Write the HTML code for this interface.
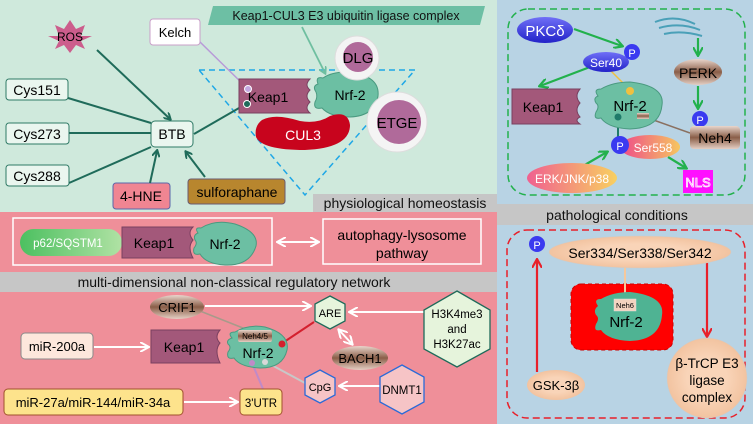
<!DOCTYPE html>
<html><head><meta charset="utf-8"><style>
html,body{margin:0;padding:0;width:753px;height:424px;overflow:hidden;background:#fff}
svg{display:block;font-family:"Liberation Sans",Arial,sans-serif}
</style></head><body>
<svg width="753" height="424" viewBox="0 0 753 424" xmlns="http://www.w3.org/2000/svg">
<defs>
<marker id="ag" markerWidth="8" markerHeight="8" refX="6" refY="4" orient="auto" markerUnits="userSpaceOnUse"><path d="M0,0 L7,4 L0,8" fill="none" stroke="#1f6b5a" stroke-width="2"/></marker>
<marker id="aw" markerWidth="10" markerHeight="10" refX="8" refY="5" orient="auto-start-reverse" markerUnits="userSpaceOnUse"><path d="M0,0 L9,5 L0,10" fill="none" stroke="#fff" stroke-width="2"/></marker>
<marker id="agr" markerWidth="10" markerHeight="10" refX="8" refY="5" orient="auto" markerUnits="userSpaceOnUse"><path d="M0,0 L9,5 L0,10" fill="none" stroke="#22b14c" stroke-width="2.2"/></marker>
<marker id="ar" markerWidth="10" markerHeight="10" refX="8" refY="5" orient="auto" markerUnits="userSpaceOnUse"><path d="M0,0 L9,5 L0,10" fill="none" stroke="#e8202a" stroke-width="2.2"/></marker>
<marker id="at" markerWidth="8" markerHeight="8" refX="6" refY="4" orient="auto" markerUnits="userSpaceOnUse"><path d="M0,0 L7,4 L0,8" fill="none" stroke="#6fbfa0" stroke-width="1.8"/></marker>
<linearGradient id="pkc" x1="0" y1="0" x2="0" y2="1"><stop offset="0" stop-color="#6f6ff7"/><stop offset="1" stop-color="#2222c8"/></linearGradient>
<linearGradient id="brn" x1="0" y1="0" x2="0" y2="1"><stop offset="0" stop-color="#e9d6cc"/><stop offset="0.5" stop-color="#8a5e48"/><stop offset="1" stop-color="#e5cfc4"/></linearGradient>
<linearGradient id="erk" x1="0" y1="0" x2="1" y2="0"><stop offset="0" stop-color="#f06090"/><stop offset="1" stop-color="#f8d060"/></linearGradient>
<linearGradient id="s558" x1="0" y1="0" x2="1" y2="0"><stop offset="0" stop-color="#ee4a8a"/><stop offset="1" stop-color="#f6c660"/></linearGradient>
<linearGradient id="p62" x1="0" y1="0" x2="1" y2="0"><stop offset="0" stop-color="#4cc060"/><stop offset="1" stop-color="#b0e2a4"/></linearGradient>
<radialGradient id="peach"><stop offset="0.5" stop-color="#f9d4b8"/><stop offset="1" stop-color="#f2c3a0"/></radialGradient>
</defs>

<rect x="0" y="0" width="497" height="212" fill="#cfe9dc"/>
<rect x="0" y="212" width="497" height="212" fill="#ef8f99"/>
<rect x="497" y="0" width="256" height="424" fill="#b8d3e4"/>
<rect x="313" y="194" width="184" height="18" fill="#c6c6c6"/>
<text x="405" y="208" font-size="14" text-anchor="middle" fill="#111">physiological homeostasis</text>
<rect x="0" y="272" width="497" height="20" fill="#c6c6c6"/>
<text x="234" y="287" font-size="14" text-anchor="middle" fill="#111">multi-dimensional non-classical regulatory network</text>
<rect x="497" y="204" width="256" height="21" fill="#c6c6c6"/>
<text x="617" y="220" font-size="14" text-anchor="middle" fill="#111">pathological conditions</text>

<path d="M59,36 L55,25 L64,29 L70,20 L76,29 L85,25 L81,36 L92,36 L81,41 L85,49 L76,45 L70,53 L64,45 L55,49 L59,41 L48,36 Z" fill="#cc5d8c"/>
<text x="70" y="41" font-size="12" text-anchor="middle">ROS</text>
<rect x="150" y="19" width="50" height="26" rx="3" fill="#fff" stroke="#c9a0c9"/>
<text x="175" y="37" font-size="13" text-anchor="middle">Kelch</text>
<path d="M213,6 L485,6 L480,25 L208,25 Z" fill="#6dbfa4"/>
<text x="346" y="20" font-size="12.5" text-anchor="middle" fill="#111">Keap1-CUL3 E3 ubiquitin ligase complex</text>
<polygon points="199,70 415,70 305,195" fill="none" stroke="#1fa7e6" stroke-width="1.5" stroke-dasharray="6,4"/>

<rect x="6" y="79" width="62" height="21" rx="3" fill="#eaf6ef" stroke="#2f7a66"/>
<text x="37" y="95" font-size="14" text-anchor="middle">Cys151</text>
<rect x="6" y="123" width="63" height="21" rx="3" fill="#eaf6ef" stroke="#2f7a66"/>
<text x="37" y="139" font-size="14" text-anchor="middle">Cys273</text>
<rect x="6" y="165" width="63" height="21" rx="3" fill="#eaf6ef" stroke="#2f7a66"/>
<text x="37" y="181" font-size="14" text-anchor="middle">Cys288</text>
<rect x="151" y="121" width="42" height="26" rx="4" fill="#eaf6ef" stroke="#2f7a66"/>
<text x="172" y="139" font-size="14" text-anchor="middle">BTB</text>
<rect x="113" y="183" width="57" height="26" rx="3" fill="#f08592" stroke="#5a66aa"/>
<text x="141" y="201" font-size="14" text-anchor="middle">4-HNE</text>
<rect x="188" y="179" width="97" height="25" rx="3" fill="#b8862e" stroke="#6a5a70"/>
<text x="237" y="197" font-size="14" text-anchor="middle">sulforaphane</text>
<g stroke="#1f6b5a" stroke-width="2" fill="none">
<line x1="97" y1="50" x2="170" y2="119" marker-end="url(#ag)"/>
<line x1="68" y1="98" x2="151" y2="123"/>
<line x1="69" y1="133" x2="151" y2="133"/>
<line x1="69" y1="183" x2="151" y2="147"/>
<line x1="150" y1="183" x2="157" y2="151" marker-end="url(#ag)"/>
<line x1="205" y1="177" x2="186" y2="152" marker-end="url(#ag)"/>
<line x1="194" y1="134" x2="246" y2="104"/>
</g>
<line x1="200" y1="42" x2="248" y2="89" stroke="#b89ad8" stroke-width="1.5"/>
<line x1="302" y1="27" x2="325" y2="73" stroke="#6fbfa0" stroke-width="1.8" marker-end="url(#at)"/>

<path d="M239,79 L310,79 Q304,85 310,90 Q304,96 310,102 Q304,108 310,113 L239,113 Z" fill="#a3587a" stroke="#7a4060"/>
<text x="268" y="102" font-size="14" text-anchor="middle">Keap1</text>
<circle cx="248" cy="89" r="3.5" fill="#c4a8e0" stroke="#fff"/>
<circle cx="247" cy="104" r="3.5" fill="#1f6b5a" stroke="#fff"/>
<path d="M318,84 Q315,76 323,78 Q335,70 355,73 Q380,78 378,96 Q375,116 350,117 Q330,117 322,108 Q313,110 315,102 Q318,97 316,92 Q312,86 318,84 Z" fill="#6cbfa3" stroke="#4a9a80"/>
<text x="350" y="100" font-size="14" text-anchor="middle">Nrf-2</text>
<path d="M262,120 Q275,113 300,121 Q318,124 330,116 Q348,110 350,125 Q350,148 305,150 Q262,150 256,137 Q254,126 262,120 Z" fill="#c8041d"/>
<text x="303" y="140" font-size="14" text-anchor="middle" fill="#fff">CUL3</text>
<circle cx="357" cy="58" r="22" fill="#f4f4f4" stroke="#ddd"/>
<circle cx="358" cy="57" r="15" fill="#b06a9a"/>
<text x="358" y="63" font-size="15" text-anchor="middle">DLG</text>
<circle cx="397" cy="122" r="30" fill="#f4f4f4" stroke="#ddd"/>
<circle cx="399" cy="122" r="22" fill="#b06a9a"/>
<text x="397" y="128" font-size="15" text-anchor="middle">ETGE</text>

<rect x="13" y="218" width="259" height="47" fill="none" stroke="#fff" stroke-width="1.5"/>
<rect x="20" y="229" width="102" height="27" rx="13.5" fill="url(#p62)"/>
<text x="68" y="247" font-size="11.5" text-anchor="middle" fill="#fff">p62/SQSTM1</text>
<path d="M122,227 L193,227 Q187,233 193,240 Q187,247 193,258 L122,258 Z" fill="#a3587a" stroke="#7a4060"/>
<text x="154" y="248" font-size="14" text-anchor="middle">Keap1</text>
<path d="M198,233 Q194,227 201,228 Q215,219 235,224 Q259,232 256,246 Q250,266 225,265 Q206,264 200,254 Q192,256 194,248 Q198,243 195,240 Q193,235 198,233 Z" fill="#6cbfa3" stroke="#4a9a80"/>
<text x="225" y="249" font-size="14" text-anchor="middle">Nrf-2</text>
<line x1="278" y1="242" x2="318" y2="242" stroke="#fff" stroke-width="2" marker-start="url(#aw)" marker-end="url(#aw)"/>
<rect x="323" y="219" width="158" height="45" fill="none" stroke="#fff" stroke-width="1.5"/>
<text x="402" y="240" font-size="14" text-anchor="middle">autophagy-lysosome</text>
<text x="402" y="258" font-size="14" text-anchor="middle">pathway</text>

<g stroke="#fff" stroke-width="2" fill="none">
<line x1="205" y1="306" x2="310" y2="306" marker-end="url(#aw)"/>
<line x1="425" y1="312" x2="350" y2="312" marker-end="url(#aw)"/>
<line x1="94" y1="347" x2="148" y2="347" marker-end="url(#aw)"/>
<line x1="184" y1="402" x2="237" y2="402" marker-end="url(#aw)"/>
<line x1="380" y1="386" x2="340" y2="386" marker-end="url(#aw)"/>
<line x1="339" y1="330" x2="352" y2="344" marker-start="url(#aw)" marker-end="url(#aw)"/>
</g>
<line x1="200" y1="311" x2="243" y2="328" stroke="#a89a8a" stroke-width="1.5"/>
<line x1="314" y1="322" x2="281" y2="344" stroke="#d4202e" stroke-width="2"/>
<line x1="252" y1="363" x2="263" y2="389" stroke="#c08ac8" stroke-width="2"/>
<line x1="266" y1="362" x2="305" y2="383" stroke="#c8c8c8" stroke-width="2"/>
<ellipse cx="177" cy="307" rx="27" ry="12" fill="url(#brn)"/>
<text x="177" y="312" font-size="13" text-anchor="middle">CRIF1</text>
<polygon points="330,296 345,304 345,321 330,329 315,321 315,304" fill="#e6f4dc" stroke="#1f6b5a" stroke-width="1.3"/>
<text x="330" y="317" font-size="11" text-anchor="middle">ARE</text>
<polygon points="457,291 490,310 490,349 457,367 424,349 424,310" fill="#e6f4dc" stroke="#1f6b5a" stroke-width="1.3"/>
<text x="457" y="318" font-size="11.5" text-anchor="middle">H3K4me3</text>
<text x="457" y="333" font-size="11.5" text-anchor="middle">and</text>
<text x="457" y="348" font-size="11.5" text-anchor="middle">H3K27ac</text>
<rect x="21" y="333" width="72" height="26" rx="4" fill="#fde7dc" stroke="#8a8a8a"/>
<text x="57" y="351" font-size="13" text-anchor="middle">miR-200a</text>
<path d="M151,330 L220,330 Q214,337 220,343 Q214,350 220,363 L151,363 Z" fill="#a3587a" stroke="#7a4060"/>
<text x="184" y="352" font-size="14" text-anchor="middle">Keap1</text>
<path d="M232,338 Q227,332 235,332 Q248,324 265,327 Q290,334 287,350 Q283,368 260,368 Q240,367 234,358 Q226,360 228,352 Q232,347 228,344 Q226,340 232,338 Z" fill="#6cbfa3" stroke="#4a9a80"/>
<rect x="238" y="330" width="34" height="12" rx="2" fill="url(#brn)"/>
<text x="255" y="339" font-size="8" text-anchor="middle">Neh4/5</text>
<text x="258" y="358" font-size="14" text-anchor="middle">Nrf-2</text>
<circle cx="282" cy="344" r="3.5" fill="#d4202e"/>
<circle cx="252" cy="363" r="3" fill="#c08ac8"/>
<circle cx="265" cy="362" r="3" fill="#d8d8d8"/>
<ellipse cx="360" cy="358" rx="28" ry="12" fill="url(#brn)"/>
<text x="360" y="363" font-size="13" text-anchor="middle">BACH1</text>
<polygon points="320,370 335,378 335,395 320,403 305,395 305,378" fill="#f6c4c6" stroke="#2a6ad8" stroke-width="1.3"/>
<text x="320" y="391" font-size="11" text-anchor="middle">CpG</text>
<polygon points="402,365 424,377 424,402 402,414 380,402 380,377" fill="#f6c4c6" stroke="#2a6ad8" stroke-width="1.3"/>
<text x="402" y="394" font-size="11.5" text-anchor="middle">DNMT1</text>
<rect x="4" y="389" width="179" height="26" rx="4" fill="#fde38c" stroke="#a0522d"/>
<text x="93" y="407" font-size="13" text-anchor="middle">miR-27a/miR-144/miR-34a</text>
<rect x="240" y="389" width="42" height="26" rx="4" fill="#fde38c" stroke="#a0522d"/>
<text x="261" y="407" font-size="11.5" text-anchor="middle">3'UTR</text>

<rect x="508" y="9" width="237" height="186" rx="20" fill="none" stroke="#22b14c" stroke-width="1.5" stroke-dasharray="7,4"/>
<g stroke="#22b14c" stroke-width="2.2" fill="none">
<line x1="574" y1="29" x2="622" y2="46" marker-end="url(#agr)"/>
<line x1="590" y1="67" x2="540" y2="86" marker-end="url(#agr)"/>
<line x1="698" y1="38" x2="698" y2="55" marker-end="url(#agr)"/>
<line x1="698" y1="86" x2="698" y2="108" marker-end="url(#agr)"/>
<line x1="583" y1="166" x2="607" y2="152" marker-end="url(#agr)"/>
<line x1="668" y1="157" x2="686" y2="168" marker-end="url(#agr)"/>
</g>
<line x1="610" y1="70" x2="630" y2="90" stroke="#f0c040" stroke-width="1.5"/>
<line x1="645" y1="117" x2="690" y2="133" stroke="#8a7060" stroke-width="1.5"/>
<line x1="618" y1="117" x2="618" y2="138" stroke="#1f7a6a" stroke-width="2"/>
<ellipse cx="545" cy="30" rx="28" ry="13" fill="url(#pkc)"/>
<text x="545" y="36" font-size="15" text-anchor="middle" fill="#fff">PKCδ</text>
<g fill="none" stroke="#4aa0b8" stroke-width="2"><path d="M655,22 Q675,14 695,24"/><path d="M659,28 Q680,22 700,30"/><path d="M664,34 Q682,30 702,36"/></g>
<ellipse cx="606" cy="62" rx="23" ry="10" fill="url(#pkc)"/>
<text x="606" y="67" font-size="12" text-anchor="middle" fill="#fff">Ser40</text>
<circle cx="632" cy="52" r="8" fill="#3a3af0"/><text x="632" y="57" font-size="11" text-anchor="middle" fill="#fff">P</text>
<ellipse cx="698" cy="72" rx="24" ry="13" fill="url(#brn)"/>
<text x="698" y="78" font-size="14" text-anchor="middle">PERK</text>
<path d="M512,89 L580,89 Q574,96 580,103 Q574,110 580,117 Q574,120 580,124 L512,124 Z" fill="#a3587a" stroke="#7a4060"/>
<text x="543" y="112" font-size="14" text-anchor="middle">Keap1</text>
<path d="M598,96 Q593,89 601,89 Q613,82 630,82 Q665,86 662,105 Q660,128 630,129 Q608,128 601,118 Q593,120 596,112 Q600,106 596,103 Q593,98 598,96 Z" fill="#6cbfa3" stroke="#4a9a80"/>
<text x="630" y="111" font-size="15" text-anchor="middle">Nrf-2</text>
<circle cx="630" cy="91" r="4" fill="#f0c040"/>
<circle cx="618" cy="117" r="3.5" fill="#1f7a6a"/>
<rect x="637" y="113" width="12" height="6" fill="url(#brn)"/>
<circle cx="700" cy="119" r="8" fill="#3a3af0"/><text x="700" y="124" font-size="11" text-anchor="middle" fill="#fff">P</text>
<rect x="690" y="126" width="50" height="23" rx="4" fill="url(#brn)"/>
<text x="715" y="143" font-size="14" text-anchor="middle">Neh4</text>
<ellipse cx="650" cy="147" rx="30" ry="12" fill="url(#s558)"/>
<text x="653" y="152" font-size="12" text-anchor="middle" fill="#fff">Ser558</text>
<circle cx="620" cy="145" r="9" fill="#3a3af0"/><text x="620" y="150" font-size="11" text-anchor="middle" fill="#fff">P</text>
<ellipse cx="572" cy="178" rx="45" ry="15" fill="url(#erk)"/>
<text x="572" y="183" font-size="12" text-anchor="middle" fill="#fff">ERK/JNK/p38</text>
<rect x="683" y="170" width="30" height="23" fill="#ff10ff"/>
<text x="698" y="187" font-size="13" text-anchor="middle" fill="#ff10ff" stroke="#fff" stroke-width="0.8">NLS</text>

<rect x="507" y="230" width="238" height="188" rx="20" fill="none" stroke="#e8202a" stroke-width="1.5" stroke-dasharray="7,4"/>
<rect x="571" y="284" width="102" height="66" rx="10" fill="#ff0000" stroke="#c00" stroke-dasharray="4,3"/>
<line x1="537" y1="372" x2="537" y2="260" stroke="#e8202a" stroke-width="2.2" marker-end="url(#ar)"/>
<line x1="707" y1="258" x2="707" y2="336" stroke="#e8202a" stroke-width="2.2" marker-end="url(#ar)"/>
<line x1="625" y1="268" x2="625" y2="300" stroke="#f6c89c" stroke-width="2"/>
<ellipse cx="640" cy="252" rx="91" ry="16" fill="url(#peach)" stroke="#ccc" stroke-width="0.5"/>
<text x="640" y="258" font-size="14" text-anchor="middle">Ser334/Ser338/Ser342</text>
<circle cx="537" cy="244" r="8" fill="#3a3af0"/><text x="537" y="249" font-size="11" text-anchor="middle" fill="#fff">P</text>
<path d="M598,306 Q593,299 601,299 Q613,292 630,292 Q665,296 662,315 Q660,340 630,341 Q608,340 601,330 Q593,332 596,324 Q600,318 596,315 Q593,310 598,306 Z" fill="#4fb393"/>
<rect x="614" y="299" width="22" height="12" fill="#f4d4c0" stroke="#ddd" stroke-width="0.5"/>
<text x="625" y="308" font-size="7.5" text-anchor="middle">Neh6</text>
<text x="626" y="327" font-size="15" text-anchor="middle">Nrf-2</text>
<ellipse cx="556" cy="385" rx="29" ry="15" fill="url(#peach)"/>
<text x="556" y="390" font-size="13" text-anchor="middle">GSK-3β</text>
<circle cx="707" cy="378" r="40" fill="url(#peach)" stroke="#ccc" stroke-width="0.5"/>
<text x="707" y="368" font-size="13.5" text-anchor="middle">β-TrCP E3</text>
<text x="707" y="385" font-size="13.5" text-anchor="middle">ligase</text>
<text x="707" y="402" font-size="13.5" text-anchor="middle">complex</text>
</svg>
</body></html>
